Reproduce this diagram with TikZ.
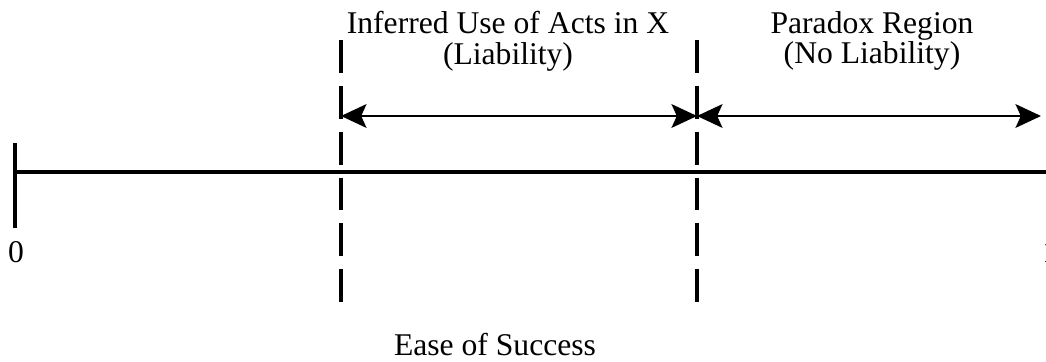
\documentclass[tikz,border=0pt]{standalone}
\usepackage{fontspec}
\setmainfont{Liberation Serif}
\usetikzlibrary{arrows.meta}

\tikzset{
	axisline/.style={line width=2.3pt},
	boundary/.style={line width=1.8pt, dash pattern=on 18.7pt off 7.4pt},
	span/.style={line width=1.1pt, {Stealth[length=14.5pt, width=13.5pt, inset=3pt]}-{Stealth[length=14.5pt, width=13.5pt, inset=3pt]}},
	lbl/.style={font=\fontsize{18}{17.5}\selectfont, align=center, inner sep=0pt}
}

\begin{document}
\begin{tikzpicture}[x=0.02cm, y=0.02cm]
	\useasboundingbox (0, 0) rectangle (1046, 362);

	% axis, origin tick
	\coordinate (origin) at (15, 190);
	\coordinate (axisend) at (1050, 190);
	\coordinate (ticktop) at (15, 219);
	\coordinate (tickbot) at (15, 134);
	\draw[axisline] (origin) -- (axisend);
	\draw[axisline] (ticktop) -- (tickbot);

	\node[lbl] (zero) at (16, 110) {0};
	\node[lbl, anchor=west] (one) at (1042, 110) {1};

	% region boundaries
	\coordinate (lefttop) at (341, 322);
	\coordinate (leftbot) at (341, 57);
	\coordinate (righttop) at (697, 322);
	\coordinate (rightbot) at (697, 57);
	\draw[boundary] (lefttop) -- (leftbot);
	\draw[boundary] (righttop) -- (rightbot);

	% spans
	\coordinate (liabL) at (341, 246);
	\coordinate (liabR) at (697, 246);
	\coordinate (paraR) at (1041, 246);
	\draw[span] (liabL) -- (liabR);
	\draw[span] (liabR) -- (paraR);

	% headings
	\node[lbl] (liability) at (508, 321) {Inferred Use of Acts in X\\(Liability)};
	\node[lbl] (paradox) at (872, 321) {Paradox Region\\(No Liability)};

	\node[lbl, anchor=base] (ease) at (495, 6) {Ease of Success};
\end{tikzpicture}
\end{document}
